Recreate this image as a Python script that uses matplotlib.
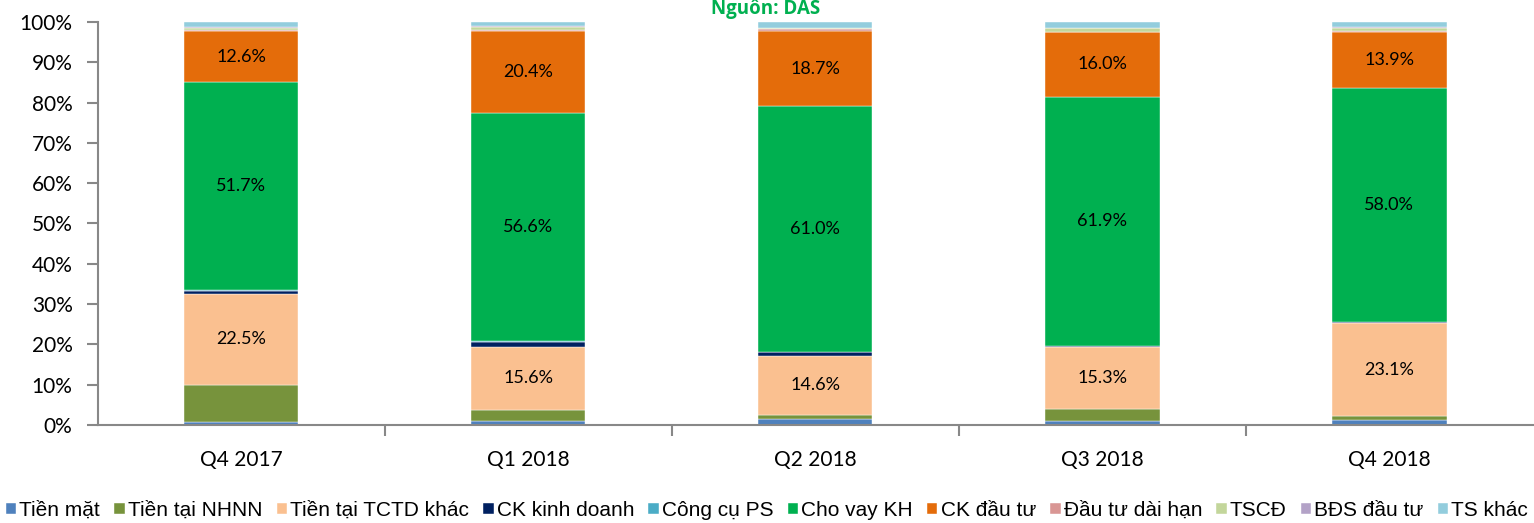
import numpy as np
import matplotlib.pyplot as plt

# data (% of total assets)
quarters = ['Q4 2017', 'Q1 2018', 'Q2 2018', 'Q3 2018', 'Q4 2018']
series_names = ['Tiền mặt', 'Tiền tại NHNN', 'Tiền tại TCTD khác', 'CK kinh doanh',
                'Công cụ PS', 'Cho vay KH', 'CK đầu tư', 'Đầu tư dài hạn',
                'TSCĐ', 'BĐS đầu tư', 'TS khác']
tien_mat = [0.7, 0.9, 1.4, 0.9, 1.2]
tien_nhnn = [9.3, 2.9, 1.1, 3.1, 1.0]
tien_tctd = [22.5, 15.6, 14.6, 15.3, 23.1]
ck_kinh_doanh = [0.8, 1.3, 1.0, 0.3, 0.2]
cong_cu_ps = [0.1, 0.1, 0.0, 0.0, 0.1]
cho_vay = [51.7, 56.6, 61.0, 61.9, 58.0]
ck_dau_tu = [12.6, 20.4, 18.7, 16.0, 13.9]
dau_tu_dai_han = [0.4, 0.2, 0.4, 0.1, 0.2]
tscd = [0.5, 0.8, 0.3, 0.8, 0.9]
bds_dau_tu = [0.1, 0.1, 0.1, 0.1, 0.1]
ts_khac = [1.3, 1.1, 1.4, 1.5, 1.3]

colors = ['#4F81BD', '#77933C', '#FAC090', '#002060', '#4BACC6', '#00B050',
          '#E46C0A', '#D99694', '#C3D69B', '#B3A2C7', '#93CDDD']
series = [tien_mat, tien_nhnn, tien_tctd, ck_kinh_doanh, cong_cu_ps, cho_vay,
          ck_dau_tu, dau_tu_dai_han, tscd, bds_dau_tu, ts_khac]
labelled = {'Tiền tại TCTD khác', 'Cho vay KH', 'CK đầu tư'}

fig = plt.figure(figsize=(15.34, 5.23), dpi=100)
ax = fig.add_axes([0.0636, 0.1874, 0.9355, 0.7706])

x = np.arange(len(quarters))
bottom = np.zeros(len(quarters))
for name, vals, col in zip(series_names, series, colors):
    vals = np.array(vals)
    ax.bar(x, vals, width=0.4, bottom=bottom, color=col, label=name,
           edgecolor='white', linewidth=0.3)
    if name in labelled:
        for xi, b, v in zip(x, bottom, vals):
            ax.text(xi, b + v / 2, f'{v:.1f}%', ha='center', va='center',
                    fontsize=13, family='Lato')
    bottom += vals

ax.set_xlim(-0.5, len(quarters) - 0.5)
ax.set_ylim(0, 100)
ax.set_yticks(np.arange(0, 101, 10))
ax.set_yticklabels([f'{v}%' for v in range(0, 101, 10)], family='Lato', fontsize=15)
ax.set_xticks(x)
ax.set_xticklabels(quarters, family='Lato', fontsize=15)
ax.set_xticks(np.arange(0.5, len(quarters) - 0.5, 1), minor=True)
ax.tick_params(axis='x', which='major', length=0, pad=18)
ax.tick_params(axis='x', which='minor', length=8, color='#888888', width=1.5, direction='out')
ax.tick_params(axis='y', length=8, color='#888888', width=1.5, pad=10)
for s in ['top', 'right']:
    ax.spines[s].set_visible(False)
for s in ['left', 'bottom']:
    ax.spines[s].set_color('#888888')
    ax.spines[s].set_linewidth(1.5)

fig.text(0.499, 0.985, 'Nguồn: DAS', color='#00B050', fontsize=13.5, fontweight='bold',
         family='Open Sans', ha='center', va='center')

leg = fig.legend(loc='lower center', bbox_to_anchor=(0.5, -0.03), ncol=11, frameon=False,
                 handlelength=0.5, handleheight=0.5, handletextpad=0.15, columnspacing=0.68,
                 prop={'family': ['Liberation Sans Narrow', 'Liberation Sans'], 'size': 15})

fig.savefig('out.png', dpi=100)
